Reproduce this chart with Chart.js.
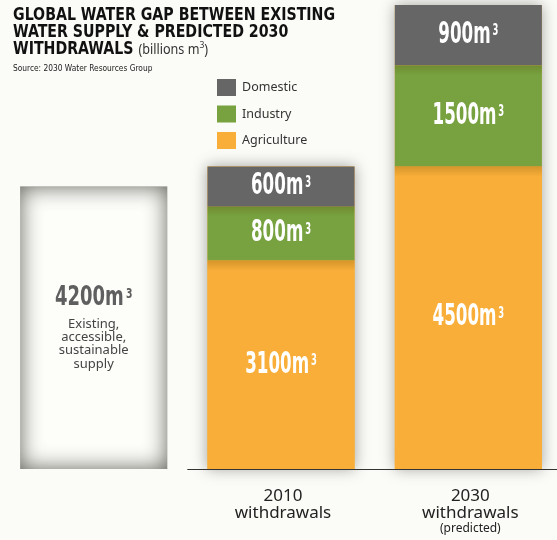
<!DOCTYPE html>
<html>
<head>
<meta charset="utf-8">
<script src="https://cdn.jsdelivr.net/npm/chart.js@4"></script>
<style>
    body {
        margin: 0;
        width: 557px;
        height: 540px;
        overflow: hidden;
        position: relative;
        background: #fbfcf7;
    }
    #chartWater {
        position: absolute;
        left: 0;
        top: 0;
    }
    #title {
        position: absolute;
        left: 13px;
        top: 6px;
        z-index: 2;
        transform: scaleX(0.9);
        transform-origin: left top;
        font-family: 'DejaVu Sans Condensed', 'DejaVu Sans', sans-serif;
        font-weight: bold;
        font-size: 17.5px;
        line-height: 17px;
        color: #111;
        white-space: nowrap;
    }
    #title .unit {
        font-family: 'Noto Sans', sans-serif;
        font-weight: normal;
        font-size: 14px;
        color: #333;
    }
    #title sup {
        font-size: 9.5px;
        line-height: 0;
    }
    #source {
        position: absolute;
        left: 13px;
        top: 63px;
        z-index: 2;
        font-family: 'DejaVu Sans Condensed', sans-serif;
        font-size: 8.3px;
        line-height: 10px;
        color: #222;
    }
</style>
</head>
<body>
<div id="title">GLOBAL WATER GAP BETWEEN EXISTING<br>WATER SUPPLY &amp; PREDICTED 2030<br>WITHDRAWALS <span class="unit">(billions m<sup>3</sup>)</span></div>
<div id="source">Source: 2030 Water Resources Group</div>
<canvas id="chartWater" width="562" height="540"></canvas>

<script>
/* ----------------------------------------------------------------------------
                                     DATA
---------------------------------------------------------------------------- */
var categories = ['', '2010', '2030'];
var categoryLines = ['', 'withdrawals', 'withdrawals'];
var categoryNotes = ['', '', '(predicted)'];

var agriculture = [null, 3100, 4500];
var industry = [null, 800, 1500];
var domestic = [null, 600, 900];
var supply = [4200, null, null];
var supplyText = ['Existing,', 'accessible,', 'sustainable', 'supply'];

var yMax = 6900;

var colors = {
    domestic: '#666666',
    industry: '#77a23f',
    agriculture: '#f8ae38',
    supply: '#fdfdfa',
    text: '#333333'
};

var valueFont = "'DejaVu Sans Condensed', 'DejaVu Sans', sans-serif";
var labelFont = "'Noto Sans', sans-serif";

/* ----------------------------------------------------------------------------
                                  FUNCTIONS
---------------------------------------------------------------------------- */

// draws "1500m³" in a squeezed condensed face, centred on x
function drawValue(ctx, value, x, y, size, color, squeeze) {
    var main = value + 'm';
    var sup = '3';
    ctx.save();
    ctx.font = 'bold ' + size + 'px ' + valueFont;
    var wMain = ctx.measureText(main).width;
    ctx.font = 'bold ' + Math.round(size * 0.5) + 'px ' + valueFont;
    var wSup = ctx.measureText(sup).width;
    var total = (wMain + 3 + wSup) * squeeze;
    ctx.translate(x - total / 2, y);
    ctx.scale(squeeze, 1);
    ctx.fillStyle = color;
    ctx.textBaseline = 'middle';
    ctx.textAlign = 'left';
    ctx.font = 'bold ' + size + 'px ' + valueFont;
    ctx.fillText(main, 0, 0);
    ctx.font = 'bold ' + Math.round(size * 0.5) + 'px ' + valueFont;
    ctx.textBaseline = 'top';
    ctx.fillText(sup, wMain + 3, -size * 0.38);
    ctx.restore();
}

function columnRect(chart, i) {
    var bottomEl = chart.getDatasetMeta(0).data[i];
    var topEl = chart.getDatasetMeta(2).data[i];
    return {
        left: bottomEl.x - bottomEl.width / 2,
        width: bottomEl.width,
        top: topEl.y,
        bottom: bottomEl.base
    };
}

/* ----------------------------------------------------------------------------
                                   PLUGIN
---------------------------------------------------------------------------- */
const decorPlugin = {
    id: 'decor',
    beforeDatasetsDraw(chart) {
        var ctx = chart.ctx;
        // soft shadow behind each withdrawal column
        for (var i = 0; i < categories.length; i++) {
            if (agriculture[i] == null) continue;
            var r = columnRect(chart, i);
            ctx.save();
            ctx.shadowColor = 'rgba(0, 0, 0, 0.35)';
            ctx.shadowBlur = 14;
            ctx.fillStyle = colors.agriculture;
            ctx.fillRect(r.left, r.top, r.width, r.bottom - r.top);
            ctx.restore();
        }
    },
    afterDatasetsDraw(chart) {
        var ctx = chart.ctx;

        // shading at the top of the lower segments
        [0, 1].forEach(function (d) {
            chart.getDatasetMeta(d).data.forEach(function (el, i) {
                if (chart.data.datasets[d].data[i] == null) return;
                var left = el.x - el.width / 2;
                var g = ctx.createLinearGradient(0, el.y, 0, el.y + 10);
                g.addColorStop(0, 'rgba(90, 60, 0, 0.22)');
                g.addColorStop(1, 'rgba(90, 60, 0, 0)');
                ctx.fillStyle = g;
                ctx.fillRect(left, el.y, el.width, 10);
            });
        });

        // inner vignette of the supply box
        chart.getDatasetMeta(3).data.forEach(function (el, i) {
            if (supply[i] == null) return;
            var left = el.x - el.width / 2;
            var w = el.width;
            var h = el.base - el.y;
            ctx.save();
            ctx.beginPath();
            ctx.rect(left, el.y, w, h);
            ctx.clip();
            ctx.beginPath();
            ctx.rect(left - 60, el.y - 60, w + 120, h + 120);
            ctx.rect(left, el.y, w, h);
            ctx.shadowColor = 'rgba(70, 70, 62, 0.85)';
            ctx.shadowBlur = 22;
            ctx.fillStyle = '#8a8a84';
            ctx.fill('evenodd');
            ctx.restore();
        });

        // base line from the gap before 2010 to the right edge
        var x = chart.scales.x;
        var y0 = chart.scales.y.getPixelForValue(0);
        var startX = (x.getPixelForValue(0) + x.getPixelForValue(1)) / 2;
        ctx.save();
        ctx.strokeStyle = '#333';
        ctx.lineWidth = 1;
        ctx.beginPath();
        ctx.moveTo(startX, Math.round(y0) + 0.5);
        ctx.lineTo(chart.width, Math.round(y0) + 0.5);
        ctx.stroke();
        ctx.restore();
    },
    afterDraw(chart) {
        var ctx = chart.ctx;
        var x = chart.scales.x;
        var y0 = chart.scales.y.getPixelForValue(0);

        // values inside the segments
        [0, 1, 2].forEach(function (d) {
            chart.getDatasetMeta(d).data.forEach(function (el, i) {
                var v = chart.data.datasets[d].data[i];
                if (v == null) return;
                drawValue(ctx, v, el.x, (el.y + el.base) / 2, 30, '#ffffff', 0.62);
            });
        });

        // supply box text
        chart.getDatasetMeta(3).data.forEach(function (el, i) {
            if (supply[i] == null) return;
            var mid = (el.y + el.base) / 2;
            drawValue(ctx, supply[i], el.x, mid - 30, 27, '#5f5f5f', 0.74);
            ctx.save();
            ctx.font = '13px ' + labelFont;
            ctx.fillStyle = '#444';
            ctx.textAlign = 'center';
            ctx.textBaseline = 'alphabetic';
            supplyText.forEach(function (t, k) {
                ctx.fillText(t, el.x, mid + k * 13.3);
            });
            ctx.restore();
        });

        // category labels under the axis
        ctx.save();
        ctx.fillStyle = '#222';
        ctx.textAlign = 'center';
        ctx.textBaseline = 'alphabetic';
        for (var i = 0; i < categories.length; i++) {
            if (!categories[i]) continue;
            var cx = x.getPixelForValue(i) + 2;
            ctx.font = '17px ' + labelFont;
            ctx.fillText(categories[i], cx, y0 + 32);
            ctx.fillText(categoryLines[i], cx, y0 + 49);
            if (categoryNotes[i]) {
                ctx.font = '12px ' + labelFont;
                ctx.fillText(categoryNotes[i], cx, y0 + 63);
            }
        }
        ctx.restore();

        // legend, top to bottom: domestic, industry, agriculture
        ctx.save();
        ctx.font = '12.5px ' + labelFont;
        ctx.textBaseline = 'middle';
        ctx.textAlign = 'left';
        [2, 1, 0].forEach(function (d, k) {
            var ds = chart.data.datasets[d];
            var top = 79 + k * 26.5;
            ctx.fillStyle = ds.backgroundColor;
            ctx.fillRect(217, top, 19, 17);
            ctx.fillStyle = colors.text;
            ctx.fillText(ds.label, 242, top + 8.5);
        });
        ctx.restore();
    }
};

/* ----------------------------------------------------------------------------
                                    MAIN
---------------------------------------------------------------------------- */
const ctx_water = document.getElementById('chartWater').getContext('2d');

const chartWater = new Chart(ctx_water, {
    type: 'bar',
    data: {
        labels: categories,
        datasets: [{
            label: 'Agriculture',
            data: agriculture,
            backgroundColor: colors.agriculture
        }, {
            label: 'Industry',
            data: industry,
            backgroundColor: colors.industry
        }, {
            label: 'Domestic',
            data: domestic,
            backgroundColor: colors.domestic
        }, {
            label: 'Existing supply',
            data: supply,
            backgroundColor: colors.supply
        }]
    },
    options: {
        responsive: false,
        animation: false,
        devicePixelRatio: 1,
        barPercentage: 0.785,
        categoryPercentage: 1,
        layout: {
            padding: { top: 5, bottom: 71, left: 0, right: 0 }
        },
        plugins: {
            legend: { display: false },
            tooltip: { enabled: false }
        },
        scales: {
            x: {
                stacked: true,
                display: false
            },
            y: {
                stacked: true,
                display: false,
                min: 0,
                max: yMax
            }
        }
    },
    plugins: [decorPlugin]
});
</script>
</body>
</html>
